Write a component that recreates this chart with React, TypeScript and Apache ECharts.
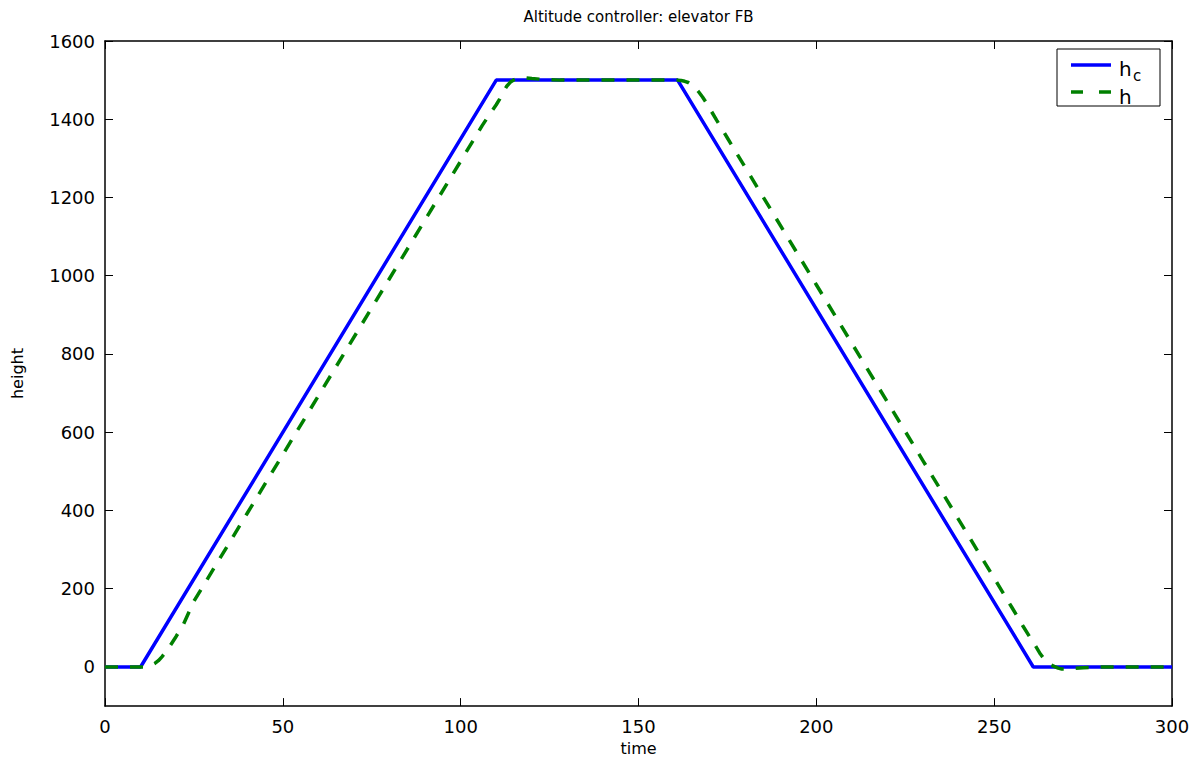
import React, { useEffect, useRef } from "react";
import * as echarts from "echarts";

const hcTime = [0, 10, 110, 161, 261, 300];
const hcValue = [0, 0, 1500, 1500, 0, 0];

const hTime = [
  0, 10, 11, 12, 13, 14, 15, 16, 17, 18, 19, 20, 21, 22, 25, 40, 60, 80, 100, 104, 106, 108, 110, 111, 112, 113, 114, 115,
  116, 117, 118, 120, 123, 128, 161, 162, 163, 164, 165, 166, 167, 168, 169, 170, 172, 175, 200, 230, 255, 258, 260,
  261, 262, 263, 264, 265, 266, 267, 268, 269, 270, 272, 275, 280, 300,
];
const hValue = [
  0, 0, 0, 1, 4, 9, 16, 26, 37, 50, 64, 78, 93, 108, 168, 393, 693, 993, 1293, 1353, 1383, 1411, 1437, 1452, 1470, 1485,
  1495, 1501, 1505, 1506, 1506, 1504, 1502, 1500, 1500, 1499, 1497, 1494, 1488, 1480, 1469, 1457, 1443, 1428, 1397,
  1352, 977, 527, 152, 106, 77, 63, 48, 33, 21, 11, 5, 1, -3, -5, -5, -4, -2, 0, 0,
];

const xTicks = [0, 50, 100, 150, 200, 250, 300];
const yTicks = [0, 200, 400, 600, 800, 1000, 1200, 1400, 1600];

const seriesNames = ["hc", "h"];
const colors = ["#0000ff", "#008000"];

const FONT = "DejaVu Sans, Verdana, sans-serif";

export default function App() {
  const ref = useRef<HTMLDivElement>(null);
  useEffect(() => {
    if (!ref.current) return;
    const chart = echarts.init(ref.current, undefined, { renderer: "svg" });
    const axisLine = { show: true, onZero: false, lineStyle: { color: "#000", width: 1.5 } };
    const tick = { show: true, inside: true, length: 8, lineStyle: { color: "#000", width: 1 } };
    const labelStyle = { fontFamily: FONT, fontSize: 18, color: "#000", formatter: (v: number) => String(v) };
    chart.setOption({
      animation: false,
      backgroundColor: "#fff",
      grid: { left: 105, width: 1067, top: 41, height: 670, containLabel: false },
      xAxis: [
        {
          type: "value",
          min: 0,
          max: 300,
          interval: 50,
          name: "time",
          nameLocation: "middle",
          nameGap: 31,
          nameTextStyle: { fontFamily: FONT, fontSize: 16, color: "#000" },
          axisLine,
          axisTick: { ...tick, customValues: xTicks },
          axisLabel: { ...labelStyle, margin: 11, customValues: xTicks },
          splitLine: { show: false },
        },
        {
          type: "value",
          min: 0,
          max: 300,
          interval: 50,
          position: "top",
          axisLine,
          axisTick: { ...tick, customValues: xTicks },
          axisLabel: { show: false },
          splitLine: { show: false },
        },
      ],
      yAxis: [
        {
          type: "value",
          min: -100,
          max: 1600,
          name: "height",
          nameLocation: "middle",
          nameGap: 80,
          nameTextStyle: { fontFamily: FONT, fontSize: 16, color: "#000" },
          axisLine,
          axisTick: { ...tick, customValues: yTicks },
          axisLabel: { ...labelStyle, margin: 10, customValues: yTicks },
          splitLine: { show: false },
        },
        {
          type: "value",
          min: -100,
          max: 1600,
          position: "right",
          axisLine,
          axisTick: { ...tick, customValues: yTicks },
          axisLabel: { show: false },
          splitLine: { show: false },
        },
      ],
      graphic: [
        {
          type: "text",
          x: 638.5,
          y: 17,
          style: {
            text: "Altitude controller: elevator FB",
            fontFamily: FONT,
            fontSize: 15,
            fill: "#000",
            align: "center",
            verticalAlign: "middle",
          },
        },
        {
          type: "group",
          z: 100,
          children: [
            {
              type: "rect",
              shape: { x: 1057, y: 49, width: 103, height: 57 },
              style: { fill: "#fff", stroke: "#000", lineWidth: 1 },
            },
            {
              type: "line",
              shape: { x1: 1071, y1: 65, x2: 1111, y2: 65 },
              style: { stroke: colors[0], lineWidth: 3.5 },
            },
            {
              type: "line",
              shape: { x1: 1071, y1: 92, x2: 1111, y2: 92 },
              style: { stroke: colors[1], lineWidth: 3.5, lineDash: [12, 16] },
            },
            {
              type: "text",
              x: 1119,
              y: 69,
              style: { text: "h", fontFamily: FONT, fontSize: 20, fill: "#000", verticalAlign: "middle" },
            },
            {
              type: "text",
              x: 1133,
              y: 76,
              style: { text: "c", fontFamily: FONT, fontSize: 15, fill: "#000", verticalAlign: "middle" },
            },
            {
              type: "text",
              x: 1119,
              y: 97,
              style: { text: "h", fontFamily: FONT, fontSize: 20, fill: "#000", verticalAlign: "middle" },
            },
          ],
        },
      ],
      series: [
        {
          name: seriesNames[0],
          type: "line",
          symbol: "none",
          data: hcTime.map((t, i) => [t, hcValue[i]]),
          lineStyle: { color: colors[0], width: 3.5 },
          itemStyle: { color: colors[0] },
          z: 2,
        },
        {
          name: seriesNames[1],
          type: "line",
          symbol: "none",
          data: hTime.map((t, i) => [t, hValue[i]]),
          lineStyle: { color: colors[1], width: 3.5, type: [13, 12] },
          itemStyle: { color: colors[1] },
          z: 3,
        },
      ],
    });
    return () => chart.dispose();
  }, []);
  return <div ref={ref} style={{ position: "fixed", left: 0, top: 0, width: 1194, height: 761 }} />;
}
